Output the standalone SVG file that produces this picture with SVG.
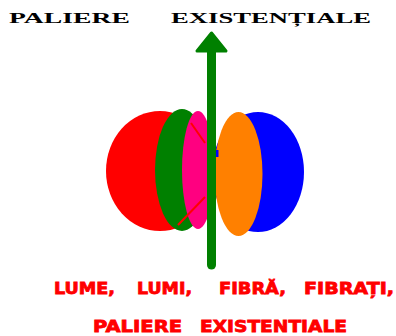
<svg xmlns="http://www.w3.org/2000/svg" width="396" height="336" viewBox="0 0 396 336">
<style>
.title{font-family:"Liberation Serif",serif;font-weight:bold;font-size:15px;fill:#000}
.red{font-family:"DejaVu Sans",sans-serif;font-weight:bold;font-size:16px;fill:#ff0000;stroke:#ff0000;stroke-width:0.8}
</style>
<rect width="396" height="336" fill="#fff"/>
<g id="title">
<text class="title" x="9" y="23" textLength="121" lengthAdjust="spacingAndGlyphs">PALIERE</text>
<text class="title" x="171" y="23" textLength="200" lengthAdjust="spacingAndGlyphs">EXISTENȚIALE</text>
</g>
<g id="red-sphere"><ellipse cx="160" cy="171" rx="54" ry="60" fill="#ff0000"/></g>
<g id="blue-sphere"><ellipse cx="258" cy="172" rx="46" ry="60" fill="#0000ff"/></g>
<g id="green-disc"><ellipse cx="182" cy="170" rx="27" ry="61" fill="#008000"/></g>
<g id="pink-disc">
<ellipse cx="198" cy="170" rx="16" ry="59" fill="#ff0080"/>
<line x1="191" y1="123" x2="205" y2="143" stroke="#ff0000" stroke-width="2"/>
<line x1="178" y1="225" x2="205" y2="197" stroke="#ff0000" stroke-width="2"/>
</g>
<g id="orange-disc"><ellipse cx="238.5" cy="174" rx="24" ry="62" fill="#ff8000"/>
<rect x="216" y="150" width="2.5" height="7" fill="#0000ff"/></g>
<g id="connectors">
<line x1="211.5" y1="50" x2="211.5" y2="265" stroke="#008000" stroke-width="9" stroke-linecap="round"/>
<path d="M211.5 33 L226 51 L197 51 Z" fill="#008000" stroke="#008000" stroke-width="3" stroke-linejoin="round"/>
</g>
<g id="caption">
<text class="red" x="54" y="294" textLength="61" lengthAdjust="spacingAndGlyphs">LUME,</text>
<text class="red" x="137" y="294" textLength="55" lengthAdjust="spacingAndGlyphs">LUMI,</text>
<text class="red" x="219" y="294" textLength="67" lengthAdjust="spacingAndGlyphs">FIBRĂ,</text>
<text class="red" x="304" y="294" textLength="90" lengthAdjust="spacingAndGlyphs">FIBRAȚI,</text>
<text class="red" x="93" y="332" textLength="89" lengthAdjust="spacingAndGlyphs">PALIERE</text>
<text class="red" x="200" y="332" textLength="147" lengthAdjust="spacingAndGlyphs">EXISTENTIALE</text>
</g>
</svg>
